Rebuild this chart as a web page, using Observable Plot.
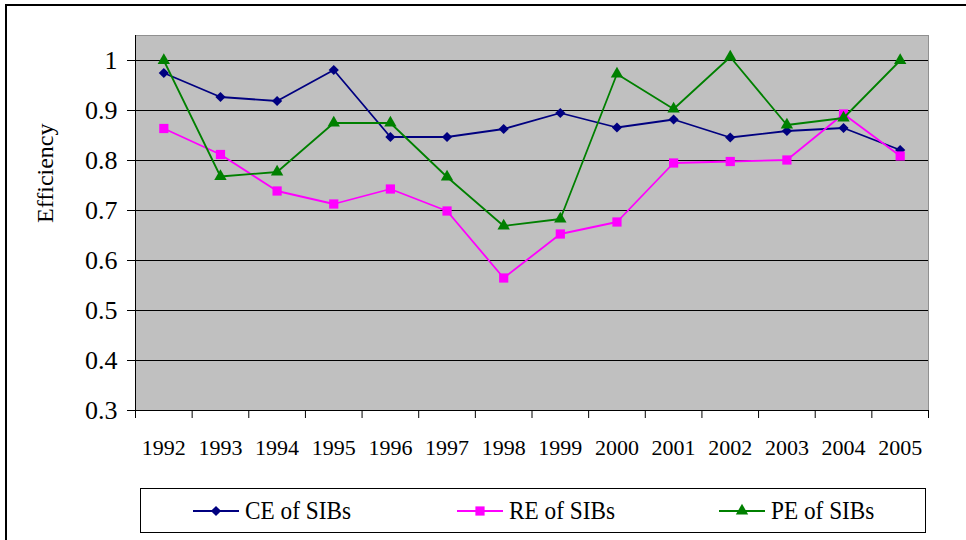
<!DOCTYPE html>
<html>
<head>
<meta charset="utf-8">
<script src="https://cdn.jsdelivr.net/npm/d3@7"></script>
<script src="https://cdn.jsdelivr.net/npm/@observablehq/plot@0.6"></script>
<style>
  html, body { margin: 0; padding: 0; background: white; overflow: hidden; }
  #wrap { position: relative; width: 966px; height: 540px; font-family: "Liberation Serif", "Times New Roman", serif; }
  #border { position: absolute; left: 5px; top: 4px; width: 975px; height: 545px; border: 2px solid black; box-sizing: border-box; }
  #chart { position: absolute; left: 0; top: 0; }
  #legend { position: absolute; left: 140px; top: 488px; width: 786px; height: 45px; border: 1px solid black; box-sizing: border-box; background: white; }
  .item { position: absolute; top: 0; height: 43px; display: flex; align-items: center; font-size: 25px; color: black; }
  .item svg { display: block; }
  .item span { margin-left: 6px; display: inline-block; transform: scaleX(0.93); transform-origin: left center; white-space: nowrap; }
</style>
</head>
<body>
<div id="wrap">
  <div id="border"></div>
  <div id="chart"></div>
  <div id="legend"></div>
</div>
<script>
const years = [1992,1993,1994,1995,1996,1997,1998,1999,2000,2001,2002,2003,2004,2005];
const ceValues = [0.975,0.927,0.919,0.981,0.847,0.847,0.863,0.895,0.866,0.882,0.846,0.859,0.865,0.821];
const reValues = [0.864,0.812,0.739,0.713,0.743,0.699,0.565,0.653,0.677,0.795,0.798,0.801,0.893,0.809];
const peValues = [1.000,0.768,0.777,0.875,0.875,0.767,0.669,0.683,0.973,0.903,1.007,0.871,0.885,1.000];
const seriesNames = ["CE of SIBs","RE of SIBs","PE of SIBs"];
const yTicks = [0.3,0.4,0.5,0.6,0.7,0.8,0.9,1.0];
const yLabel = "Efficiency";

const seriesValues = [ceValues, reValues, peValues];
const colors = ["#000080","#FF00FF","#008000"];
const symbols = ["diamond2","square","triangle"];
const radii = [4.6, 5.2, 4.6];
const d3Symbols = [d3.symbolDiamond2, d3.symbolSquare, d3.symbolTriangle];

const bounds = years.map(y => y - 0.5).concat([years[years.length - 1] + 0.5]);

const marks = [
  Plot.frame({fill: "#c0c0c0", stroke: "#909090"}),
  Plot.gridY(yTicks, {stroke: "black", strokeOpacity: 1, strokeWidth: 1}),
  Plot.ruleX([bounds[0]], {stroke: "black"}),
  Plot.ruleY([yTicks[0]], {stroke: "black"}),
  Plot.axisY(yTicks, {
    tickSize: 8, tickPadding: 10, fontSize: 26,
    tickFormat: d => String(+d.toFixed(1)),
    label: null
  }),
  Plot.text([yLabel], {frameAnchor: "left", dx: -90, rotate: -90, fontSize: 24, text: d => d}),
  Plot.axisX(bounds, {tickSize: 8, tickFormat: () => "", label: null}),
  Plot.axisX(years, {tickSize: 0, tickPadding: 29, fontSize: 22, tickFormat: d => String(d), label: null})
];

seriesNames.forEach((name, i) => {
  const data = years.map((yr, j) => ({year: yr, value: seriesValues[i][j]}));
  marks.push(Plot.line(data, {x: "year", y: "value", stroke: colors[i], strokeWidth: 1.8}));
  marks.push(Plot.dot(data, {x: "year", y: "value", symbol: () => symbols[i], fill: colors[i], stroke: "none", r: radii[i]}));
});

const chart = Plot.plot({
  width: 966, height: 480,
  marginLeft: 135, marginRight: 38, marginTop: 35, marginBottom: 70,
  style: {fontFamily: "'Liberation Serif', 'Times New Roman', serif", fontSize: "22px", background: "transparent", color: "black"},
  x: {type: "linear", domain: [bounds[0], bounds[bounds.length - 1]]},
  y: {domain: [0.3, 1.05]},
  symbol: {type: "identity"},
  marks
});
document.getElementById("chart").appendChild(chart);

// Legend
const legend = document.getElementById("legend");
const lefts = [52, 316, 578];
seriesNames.forEach((name, i) => {
  const item = document.createElement("div");
  item.className = "item";
  item.style.left = lefts[i] + "px";
  const sw = d3.create("svg").attr("width", 46).attr("height", 20);
  sw.append("line").attr("x1", 0).attr("x2", 46).attr("y1", 10).attr("y2", 10)
    .attr("stroke", colors[i]).attr("stroke-width", 1.8);
  sw.append("path").attr("transform", "translate(23,10)")
    .attr("d", d3.symbol(d3Symbols[i], Math.PI * radii[i] * radii[i])())
    .attr("fill", colors[i]);
  item.appendChild(sw.node());
  const span = document.createElement("span");
  span.textContent = name;
  item.appendChild(span);
  legend.appendChild(item);
});
</script>
</body>
</html>
